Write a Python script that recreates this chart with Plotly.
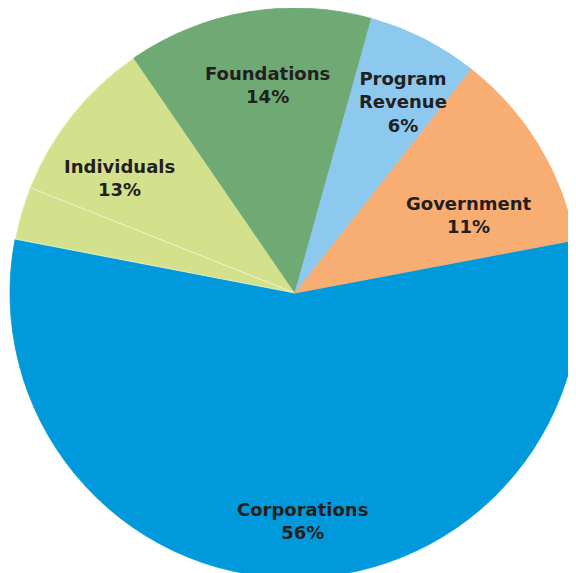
import math
import plotly.graph_objects as go

categories = ["Corporations", "Individuals (part)", "Individuals", "Foundations", "Program Revenue", "Government"]
values = [56.0, 3.0, 9.4, 13.9, 6.3, 11.4]
colors = ["#0099DC", "#D4E18C", "#D4E18C", "#6FAA74", "#8DC9EE", "#F8AE72"]
line_colors = ["#0099DC", "#EEF3CF", "#EEF3CF", "#6FAA74", "#8DC9EE", "#F8AE72"]

# label groups: (text, slice indices covered)
label_texts = ["Corporations<br>56%", "Individuals<br>13%", "Foundations<br>14%", "Program<br>Revenue<br>6%", "Government<br>11%"]
label_groups = [[0], [1, 2], [3], [4], [5]]
label_rfrac = [0.80, 0.735, 0.735, 0.77, 0.67]
label_nudge = [2.0, 0.0, -2.0, -2.5, -7.0]

W, H = 592, 590
ML, MR, MT, MB = 2, 20, 0, 20
rotation = 79.3

fig = go.Figure(go.Pie(
    labels=categories,
    values=values,
    textinfo="none",
    sort=False,
    direction="clockwise",
    rotation=rotation,
    marker=dict(colors=colors, line=dict(color=line_colors, width=0.8)),
    hoverinfo="label+percent",
    showlegend=False,
    domain=dict(x=[0, 1], y=[0, 1]),
))

# label positions derived from the slice angles
total = sum(values)
pw, ph = W - ML - MR, H - MT - MB
R = min(pw, ph) / 2
cx, cy = pw / 2, ph / 2
cum = [0.0]
for v in values:
    cum.append(cum[-1] + v)
for txt, grp, rf, nd in zip(label_texts, label_groups, label_rfrac, label_nudge):
    start = cum[grp[0]] / total * 360
    end = cum[grp[-1] + 1] / total * 360
    mid = (start + end) / 2
    # standard angle (ccw from +x): first slice starts at (90 - rotation), slices run clockwise
    a = math.radians((90 - rotation) - mid + nd)
    x = cx + rf * R * math.cos(a)
    y = cy + rf * R * math.sin(a)
    fig.add_annotation(
        x=x / pw, y=y / ph, xref="paper", yref="paper",
        xanchor="center", yanchor="middle",
        text=txt, showarrow=False,
        font=dict(family="DejaVu Sans", size=18, color="#231F20", weight="bold"),
        align="center",
    )

fig.update_layout(
    width=W, height=H,
    margin=dict(l=ML, r=MR, t=MT, b=MB),
    paper_bgcolor="white",
    plot_bgcolor="white",
)
fig.write_html(
    "out.html",
    post_script="document.documentElement.style.overflow='hidden';document.body.style.overflow='hidden';",
)
